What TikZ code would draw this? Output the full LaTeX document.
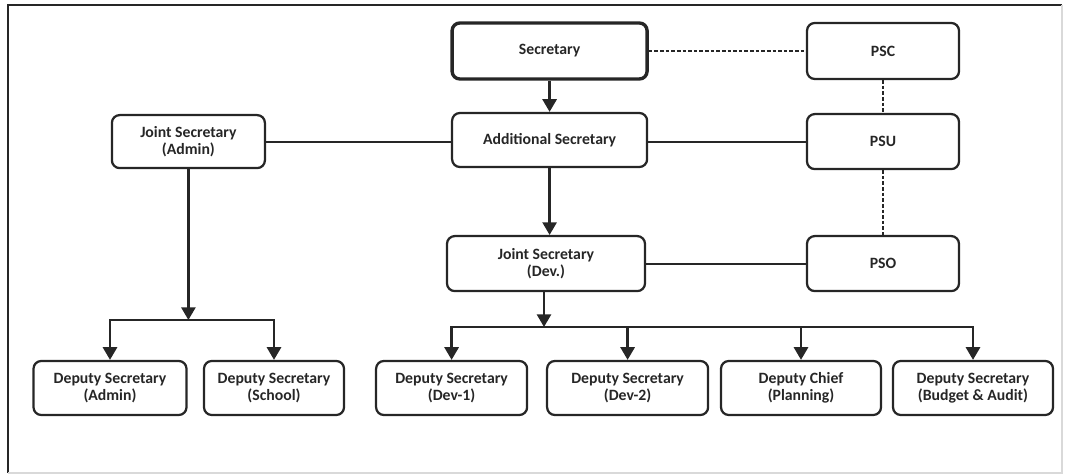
\documentclass[tikz,border=0pt]{standalone}
\usepackage{fontspec}
\setmainfont{Carlito}
\usetikzlibrary{arrows.meta}

\begin{document}
\begin{tikzpicture}[>={Triangle[length=9pt,width=10pt]},
      post/.style={draw=black!85, line width=1.6pt, rounded corners=5.5pt,
                   align=center, minimum height=1.375cm, text=black!85,
                   font=\fontsize{11.2}{12.5}\selectfont\bfseries},
      head/.style={post, line width=2.4pt},
      link/.style={draw=black!85, line width=1.4pt},
      tie/.style={link, dash pattern=on 2.6pt off 1.4pt, line width=1.6pt},
      down/.style={draw=black!85, line width=1.8pt, ->}]

    \useasboundingbox (0,0) rectangle (26.75,-11.875);
    % ---- frame ----
    \draw[black!85, line width=1.4pt] (0.2,-11.825) -- (0.2,-0.125) -- (26.55,-0.125);
    \draw[black!15, line width=0.8pt] (26.55,-0.125) -- (26.55,-11.825) -- (0.2,-11.825);

    % ---- top: secretary and the PS column ----
    \node[head, minimum width=4.875cm, minimum height=1.4cm] (sec) at (13.74,-1.275) {Secretary};
    \node[post, minimum width=3.8cm, minimum height=1.4cm] (psc) at (22.075,-1.275) {PSC};
    \node[post, minimum width=4.875cm, minimum height=1.35cm] (addsec) at (13.74,-3.5) {Additional Secretary};
    \node[post, minimum width=3.8cm] (psu) at (22.075,-3.54) {PSU};
    \node[post, minimum width=3.825cm, minimum height=1.325cm] (jsadmin) at (4.71,-3.54) {Joint Secretary\\(Admin)};
    \node[post, minimum width=4.95cm] (jsdev) at (13.65,-6.59) {Joint Secretary\\(Dev.)};
    \node[post, minimum width=3.8cm] (pso) at (22.075,-6.59) {PSO};

    % ---- bottom row ----
    \node[post, minimum width=3.825cm, minimum height=1.35cm] (dsadmin) at (2.75,-9.7) {Deputy Secretary\\(Admin)};
    \node[post, minimum width=3.5cm, minimum height=1.35cm] (dsschool) at (6.85,-9.7) {Deputy Secretary\\(School)};
    \node[post, minimum width=3.775cm, minimum height=1.35cm] (dsdev1) at (11.29,-9.7) {Deputy Secretary\\(Dev-1)};
    \node[post, minimum width=4.025cm, minimum height=1.35cm] (dsdev2) at (15.69,-9.7) {Deputy Secretary\\(Dev-2)};
    \node[post, minimum width=4.0cm, minimum height=1.35cm] (dchief) at (20.025,-9.7) {Deputy Chief\\(Planning)};
    \node[post, minimum width=4.0cm, minimum height=1.35cm] (dsbudget) at (24.325,-9.7) {Deputy Secretary\\(Budget \& Audit)};

    % ---- chain of command ----
    \draw[down] (sec.south -| addsec.north) -- (addsec.north);
    \draw[down] (addsec.south) -- (addsec.south |- jsdev.north);
    \draw[link] (jsadmin.east) -- (jsadmin.east -| addsec.west);
    \draw[link] (psu.west -| addsec.east) -- (psu.west);
    \draw[link] (jsdev) -- (pso);

    % PS links (dashed)
    \draw[tie] (sec) -- (psc);
    \draw[tie] (psc) -- (psu);
    \draw[tie] (psu) -- (pso);

    % ---- admin branch ----
    \coordinate (abus) at (4.71,-8.0);
    \draw[down] (jsadmin) -- (abus);
    \draw[down] (abus) -| (dsadmin);
    \draw[down] (abus) -| (dsschool);

    % ---- development branch ----
    \coordinate (dbus) at (13.6,-8.175);
    \draw[down] (jsdev.south -| dbus) -- (dbus);
    \foreach \n in {dsdev1,dsdev2,dchief,dsbudget}
      \draw[down] (dbus) -| (\n);

\end{tikzpicture}
\end{document}
